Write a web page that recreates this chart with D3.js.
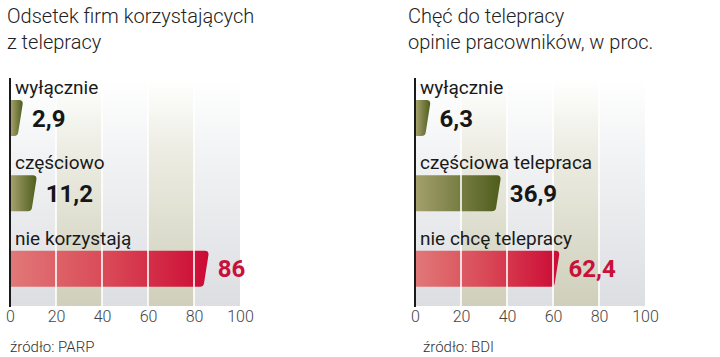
<!DOCTYPE html>
<html><head><meta charset="utf-8">
<script src="https://cdn.jsdelivr.net/npm/d3@7"></script>
<style>
html,body{margin:0;padding:0;background:#fff;}
svg{display:block;}
text{font-family:Roboto,"Noto Sans",sans-serif;}
</style></head>
<body>
<svg id="c" width="720" height="357"></svg>
<script>
const leftTitle = ["Odsetek firm korzystających", "z telepracy"];
const rightTitle = ["Chęć do telepracy", "opinie pracowników, w proc."];
const leftCategories = ["wyłącznie", "częściowo", "nie korzystają"];
const leftValues = [2.9, 11.2, 86];
const rightCategories = ["wyłącznie", "częściowa telepraca", "nie chcę telepracy"];
const rightValues = [6.3, 36.9, 62.4];
const barKinds = ["olive", "olive", "red"];
const tickValues = [0, 20, 40, 60, 80, 100];
const leftSource = "źródło: PARP";
const rightSource = "źródło: BDI";

const svg = d3.select("#c");
const defs = svg.append("defs");

function lg(id, stops, vertical) {
  const g = defs.append("linearGradient").attr("id", id)
    .attr("x1", 0).attr("y1", 0).attr("x2", vertical ? 0 : 1).attr("y2", vertical ? 1 : 0);
  stops.forEach(s => g.append("stop").attr("offset", s[0]).attr("stop-color", s[1]));
}
lg("gRed", [[0, "#e17878"], [0.5, "#d94856"], [1, "#cc0a35"]], false);
lg("gOlive", [[0, "#a3a06c"], [1, "#4f5d1c"]], false);
lg("gGrey", [[0, "#ffffff"], [0.3, "#f3f4f5"], [1, "#dcdee2"]], true);
lg("gTan", [[0, "#ffffff"], [0.3, "#ededE4"], [1, "#cfcfbb"]], true);

function panel(opts) {
  const g = svg.append("g");
  const x = d3.scaleLinear().domain([0, 100]).range([opts.x0, opts.x0 + 230]);
  const y = d3.scaleBand().domain(opts.categories).range([80, 306]);
  const top = 80, bottom = 306;

  // title
  g.append("text").attr("x", opts.titleX).attr("y", 23)
    .attr("font-size", 20).attr("font-weight", 300).attr("fill", "#222")
    .selectAll("tspan").data(opts.title).join("tspan")
    .attr("x", opts.titleX).attr("dy", (d, i) => i ? 26 : 0).text(d => d);

  // background bands
  const bands = d3.pairs(tickValues);
  g.selectAll("rect.band").data(bands).join("rect")
    .attr("x", d => x(d[0])).attr("width", d => x(d[1]) - x(d[0]))
    .attr("y", top).attr("height", bottom - top)
    .attr("fill", (d, i) => i % 2 ? "url(#gTan)" : "url(#gGrey)");

  // bars
  const r = 4;
  g.selectAll("path.bar").data(opts.values).join("path")
    .attr("fill", (d, i) => barKinds[i] === "red" ? "url(#gRed)" : "url(#gOlive)")
    .attr("d", (v, i) => {
      const y0 = y(opts.categories[i]) + 20, y1 = y0 + 36;
      const xs = x(0) + 1;
      const xt = Math.max(x(v) + 1, x(0) + 13);
      const xb = xt - 5;
      return `M${xs},${y0} H${xt - r} Q${xt},${y0} ${xt - 0.3},${y0 + r} L${xb + 0.3},${y1 - r} Q${xb},${y1} ${xb - r},${y1} H${xs} Z`;
    });

  // white gridlines
  g.selectAll("line.grid").data(tickValues.slice(1, -1)).join("line")
    .attr("x1", d => x(d)).attr("x2", d => x(d))
    .attr("y1", top).attr("y2", bottom)
    .attr("stroke", "#fff").attr("stroke-width", 1.6);

  // category labels
  g.selectAll("text.cat").data(opts.categories).join("text")
    .attr("x", x(0) + 5).attr("y", d => y(d) + 14)
    .attr("font-size", 19).attr("fill", "#1a1a1a").text(d => d);

  // value labels
  g.selectAll("text.val").data(opts.values).join("text")
    .attr("x", v => Math.max(x(v) + 1, x(0) + 13) + 9)
    .attr("y", (v, i) => y(opts.categories[i]) + 20 + 18 + 8.5)
    .attr("font-size", 24).attr("font-weight", 700)
    .attr("fill", (v, i) => barKinds[i] === "red" ? "#c8103a" : "#161616")
    .text(v => d3.format(",")(v).replace(".", ","));

  // axis line
  g.append("line").attr("x1", x(0)).attr("x2", x(0)).attr("y1", 78).attr("y2", 307)
    .attr("stroke", "#1a1a1a").attr("stroke-width", 2);

  // tick labels via axis
  const ax = d3.axisBottom(x).tickValues(tickValues).tickSize(0).tickPadding(0);
  const axg = g.append("g").attr("transform", `translate(0,${310})`).call(ax);
  axg.select(".domain").remove();
  axg.selectAll("text").attr("font-size", 16).attr("font-weight", 300)
    .attr("fill", "#444").attr("font-family", "Roboto, sans-serif").attr("dy", "0.75em");

  // source
  g.append("text").attr("x", opts.sourceX).attr("y", 352)
    .attr("font-size", 15).attr("font-weight", 300).attr("fill", "#333").text(opts.source);
}

panel({ x0: 10, titleX: 7, title: leftTitle, categories: leftCategories, values: leftValues, source: leftSource, sourceX: 10 });
panel({ x0: 415, titleX: 408, title: rightTitle, categories: rightCategories, values: rightValues, source: rightSource, sourceX: 423 });
</script>
</body></html>
